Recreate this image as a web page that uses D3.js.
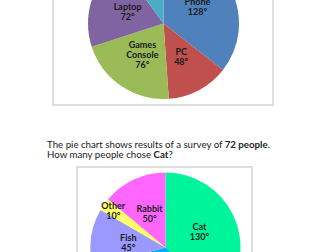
<!DOCTYPE html>
<html>
<head>
<meta charset="utf-8">
<script src="https://cdn.jsdelivr.net/npm/d3@7"></script>
<style>
  body { margin: 0; background: #fff; }
  svg { display: block; }
</style>
</head>
<body>
<div id="chart"></div>
<script>
// top chart: devices (degrees)
var deviceNames = ["Phone", "PC", "Games Console", "Laptop", "Tablet"];
var deviceAngles = [128, 48, 76, 72, 36];
var deviceColors = ["#4f81bd", "#c0504d", "#9bbb59", "#8064a2", "#4bacc6"];

// bottom chart: pets (degrees)
var petNames = ["Cat", "Dog", "Fish", "Other", "Rabbit"];
var petAngles = [130, 125, 45, 10, 50];
var petColors = ["#00f59a", "#00b0f0", "#9999ff", "#ffff66", "#ff66ff"];

var questionLine1 = ["The pie chart shows results of a survey of ", "72 people", "."];
var questionLine2 = ["How many people chose ", "Cat", "?"];

var w = 336, h = 252;

var svg = d3.select("#chart").append("svg")
    .attr("width", w)
    .attr("height", h);

function drawPie(names, vals, colors, box, cx, cy, r) {
    svg.append("rect")
        .attr("x", box[0]).attr("y", box[1])
        .attr("width", box[2]).attr("height", box[3])
        .attr("fill", "#fff")
        .attr("stroke", "#d4d4d4")
        .attr("stroke-width", 1.5);

    var pie = d3.pie().sort(null).value(function (d) { return d; });
    var arcs = pie(vals);
    var arc = d3.arc().innerRadius(0).outerRadius(r);
    var smallArc = d3.arc().innerRadius(r * 0.85).outerRadius(r * 0.85);

    var g = svg.append("g").attr("transform", "translate(" + cx + "," + cy + ")");

    g.selectAll("path")
        .data(arcs)
        .enter().append("path")
        .attr("d", arc)
        .attr("fill", function (d, i) { return colors[i]; });

    var labels = g.selectAll("text.lbl")
        .data(arcs)
        .enter().append("text")
        .attr("class", "lbl")
        .attr("text-anchor", "middle")
        .style("font-family", "Lato, 'Open Sans', sans-serif")
        .style("font-weight", "bold")
        .style("font-size", "9px")
        .attr("fill", "#1a1a1a")
        .attr("transform", function (d) {
            var c = d.data < 20 ? smallArc.centroid(d) : arc.centroid(d);
            return "translate(" + c[0] + "," + c[1] + ")";
        });

    labels.each(function (d, i) {
        var lines = names[i].split(" ");
        lines.push(d.data + "°");
        var t = d3.select(this);
        var y0 = -(lines.length - 1) * 5 + 3;
        lines.forEach(function (s, k) {
            t.append("tspan").attr("x", 0).attr("y", y0 + k * 10).text(s);
        });
    });
}

drawPie(deviceNames, deviceAngles, deviceColors, [53, -10, 220, 115], 163.5, 23.5, 75.5);

var q = svg.append("g")
    .style("font-family", "Lato, 'Open Sans', sans-serif")
    .style("font-size", "9.7px")
    .attr("fill", "#222");

[questionLine1, questionLine2].forEach(function (parts, k) {
    var t = q.append("text").attr("x", 47).attr("y", 148 + k * 9.5);
    parts.forEach(function (s, j) {
        t.append("tspan")
            .style("font-weight", j === 1 ? "bold" : "normal")
            .text(s);
    });
});

drawPie(petNames, petAngles, petColors, [77, 167, 175, 100], 165.5, 247.5, 75);
</script>
</body>
</html>
